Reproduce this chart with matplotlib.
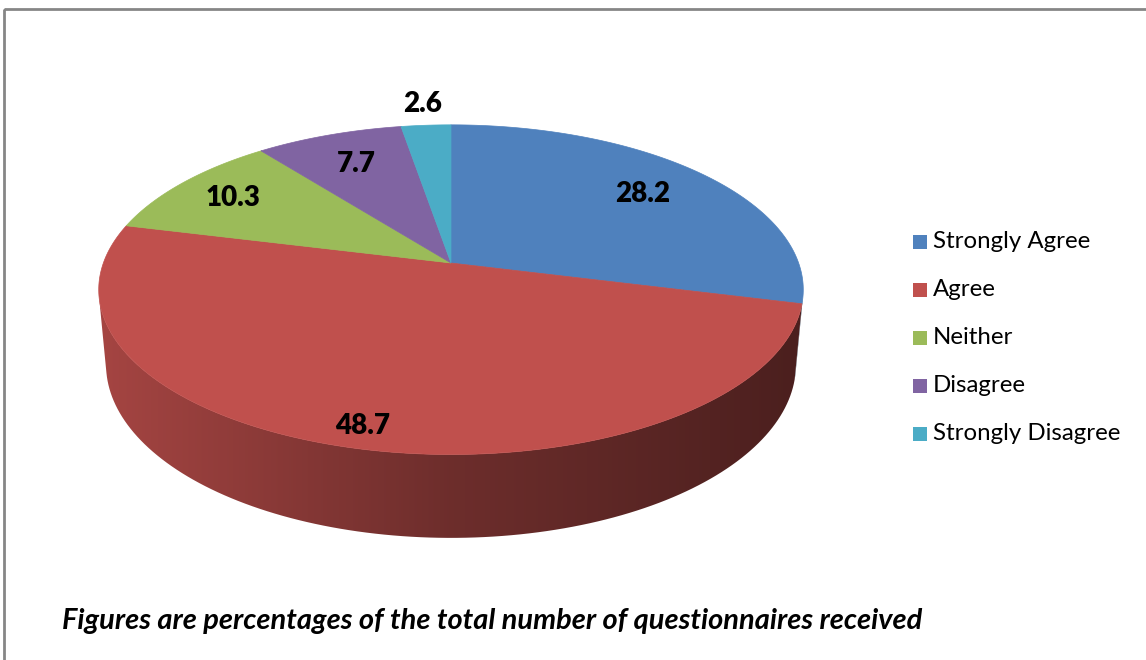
import numpy as np
import matplotlib.pyplot as plt
from matplotlib.patches import Polygon, Rectangle
from matplotlib.colors import to_rgb

# data
labels = ['Strongly Agree', 'Agree', 'Neither', 'Disagree', 'Strongly Disagree']
values = [28.2, 48.7, 10.3, 7.7, 2.6]
colors = ['#4F81BD', '#C0504D', '#9BBB59', '#8064A2', '#4BACC6']
label_radius = [0.75, 0.9, 0.8, 0.75, 1.18]
caption = 'Figures are percentages of the total number of questionnaires received'

plt.rcParams['font.family'] = ['Lato', 'DejaVu Sans']

# 3d view settings (perspective camera looking down on a unit pie)
elev = np.radians(27.5)
dist = 5.48
height = 0.245
cx, cy, scale = 451, 263, 1905
ce, se = np.cos(elev), np.sin(elev)


def project(x, y, z):
    zc = y * ce + dist - z * se
    yc = y * se + z * ce
    return cx + scale * x / zc, cy - scale * yc / zc


fig = plt.figure(figsize=(11.46, 6.6), dpi=100)
ax = fig.add_axes([0, 0, 1, 1])

frac = np.array(values) / np.sum(values)
bounds = 90 - 360 * np.concatenate([[0], np.cumsum(frac)])
lim = np.degrees(np.arcsin(1 / (dist * ce)))
vis_lo, vis_hi = -180 + lim, -lim

xs = np.linspace(0, 1146, 500)
shade = np.interp(xs, [99, 450, 803], [0.86, 0.57, 0.39])

for i, col in enumerate(colors):
    t0, t1 = bounds[i], bounds[i + 1]
    # side wall, only the part facing the viewer
    a, b = min(t0, vis_hi), max(t1, vis_lo)
    if a > b:
        th = np.radians(np.linspace(a, b, 120))
        tx, ty = project(np.cos(th), np.sin(th), 0)
        bx, by = project(np.cos(th), np.sin(th), -height)
        pts = np.column_stack([np.r_[tx, bx[::-1]], np.r_[ty, by[::-1]]])
        side = Polygon(pts, closed=True, facecolor='none', edgecolor='none')
        ax.add_patch(side)
        img = np.array(to_rgb(col))[None, None, :] * shade[None, :, None]
        im = ax.imshow(img, extent=[0, 1146, 660, 0], aspect='auto', zorder=1)
        im.set_clip_path(side)

    # top face
    th = np.radians(np.linspace(t0, t1, 200))
    px, py = project(np.cos(th), np.sin(th), 0)
    pts = np.column_stack([np.r_[cx, px], np.r_[cy, py]])
    ax.add_patch(Polygon(pts, closed=True, facecolor=col, edgecolor=col,
                         linewidth=0.5, zorder=2))

    # data label
    mid = np.radians((t0 + t1) / 2)
    r = label_radius[i]
    lx, ly = project(r * np.cos(mid), r * np.sin(mid), 0)
    ax.text(lx, ly, f'{values[i]:.1f}', ha='center', va='center',
            fontsize=20, fontweight='heavy', color='black', zorder=5)

# legend
for i, (lab, col) in enumerate(zip(labels, colors)):
    yy = 242 + 48 * i
    ax.add_patch(Rectangle((913, yy - 7), 14, 14, facecolor=col,
                           edgecolor='none', zorder=5))
    ax.text(933, yy, lab, ha='left', va='center', fontsize=17.3, zorder=5)

ax.text(62, 621, caption, ha='left', va='center', fontsize=20.9,
        fontweight='bold', fontstyle='italic')

# chart border
ax.add_patch(Rectangle((4, 9), 1200, 700, facecolor='none',
                       edgecolor='#868686', linewidth=2, zorder=6))

ax.set_xlim(0, 1146)
ax.set_ylim(660, 0)
ax.axis('off')

fig.savefig('out.png', dpi=100)
